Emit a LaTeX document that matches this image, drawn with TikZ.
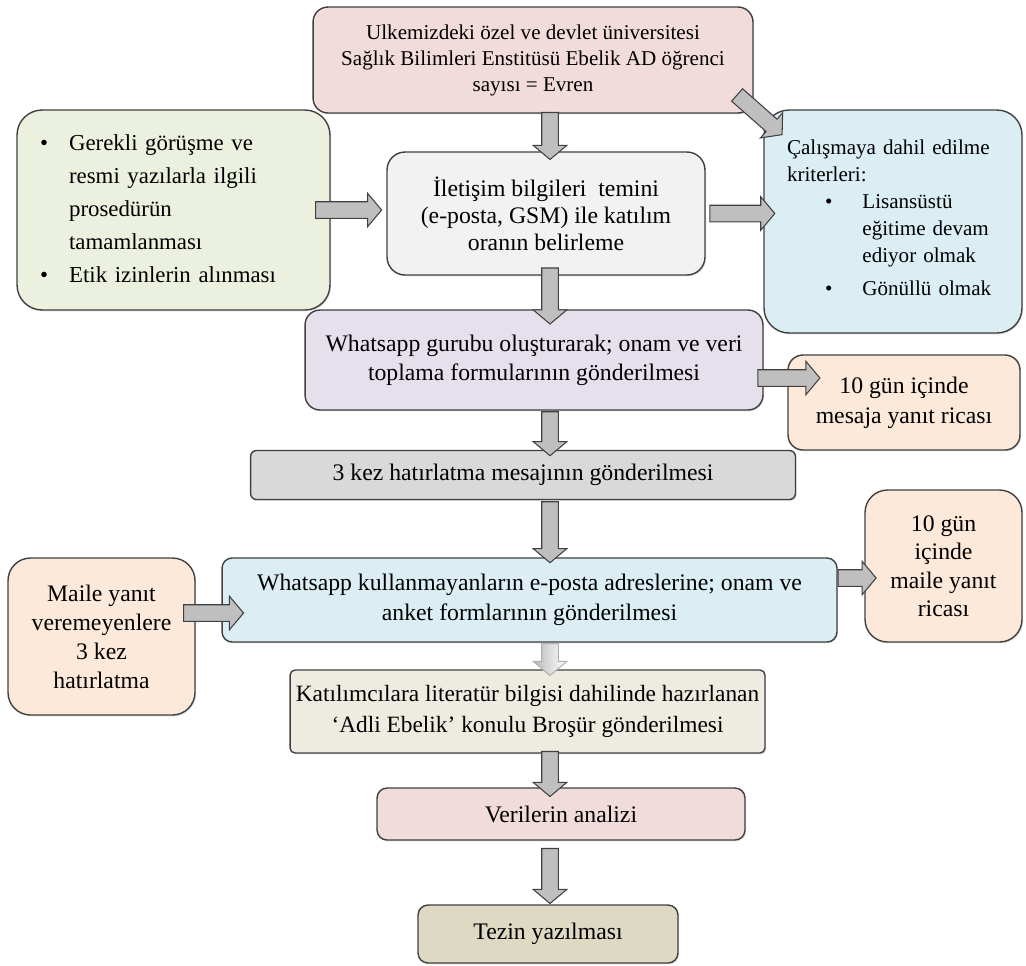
\documentclass[tikz,border=0pt]{standalone}
\usepackage{fontspec}
\setmainfont{Liberation Serif}
\usepackage{tikz}
\usetikzlibrary{positioning, calc, shapes.arrows, shadows}
\definecolor{tpink}{HTML}{F2DCDB}
\definecolor{tgreen}{HTML}{EBF1DE}
\definecolor{tgrey}{HTML}{F2F2F2}
\definecolor{tblue}{HTML}{DBEEF4}
\definecolor{tlilac}{HTML}{E5E0EC}
\definecolor{tpeach}{HTML}{FDE9D9}
\definecolor{tbar}{HTML}{D9D9D9}
\definecolor{tbeige}{HTML}{EEECE1}
\definecolor{ttan}{HTML}{DDD9C3}
\definecolor{tedge}{HTML}{404040}
\definecolor{tarrow}{HTML}{BFBFBF}
\tikzset{
  stage/.style={
    draw=tedge, fill=#1, line width=0.8pt, align=center, inner sep=0pt,
    font=\fontsize{13.5}{16.5}\selectfont,
    drop shadow={opacity=0.25, shadow xshift=0.6pt, shadow yshift=-0.8pt}
  },
  stage/.default=tgrey,
  blockarr/.style={
    single arrow, draw=tedge, fill=tarrow, line width=0.6pt,
    inner sep=0.155cm, single arrow head extend=0.17cm,
    single arrow tip angle=100, sloped, allow upside down, midway
  },
  fadearr/.style={
    blockarr, draw=gray!60, left color=gray!55, right color=white
  }
}

\begin{document}
\begin{tikzpicture}[x=0.02cm, y=-0.02cm]
  \useasboundingbox (0,0) rectangle (1026,965);
  \coordinate (spine) at (550,0);

  \node[stage=tpink, rounded corners=0.3cm, minimum width=8.8cm, minimum height=2.12cm,
        font=\fontsize{12}{14.8}\selectfont] (univ) at (533,60)
    {Ulkemizdeki özel ve devlet üniversitesi\\ Sağlık Bilimleri\ Enstitüsü Ebelik AD öğrenci\\ sayısı = Evren};
  \node[stage=tgreen, rounded corners=0.5cm, minimum width=6.26cm, minimum height=4cm,
        text width=5.34cm, align=left, font=\fontsize{13}{18.8}\selectfont] (prep) at (173.5,210)
    {\begin{tabular}{@{}l@{\hspace{12pt}}l@{}}
      \textbullet & Gerekli\ görüşme ve\\
      & resmi yazılarla ilgili\\
      & prosedürün\\
      & tamamlanması\\
      \textbullet & Etik izinlerin\ alınması
    \end{tabular}};
  \node[stage, rounded corners=0.36cm, minimum width=6.36cm, minimum height=2.46cm,
        font=\fontsize{13.5}{15.4}\selectfont] (ilet) at (546,213.5)
    {İletişim bilgileri\ \ temini\\ (e-posta, GSM) ile katılım\\ oranın belirleme};
  \node[stage=tblue, rounded corners=0.5cm, minimum width=5.16cm, minimum height=4.46cm,
        text width=4.24cm, align=left, font=\fontsize{12}{15.4}\selectfont] (crit) at (893,221.5)
    {Çalışmaya dahil edilme\\ kriterleri:\\
     \hspace*{0.76cm}\begin{tabular}[t]{@{}l@{\hspace{0.6cm}}l@{}}
       \textbullet & Lisansüstü\\
       & eğitime devam\\
       & ediyor olmak\\[3pt]
       \textbullet & Gönüllü olmak
     \end{tabular}};
  \node[stage=tlilac, rounded corners=0.3cm, minimum width=9.16cm, minimum height=2cm,
        font=\fontsize{13.5}{16.5}\selectfont] (group) at (534,360)
    {Whatsapp gurubu oluşturarak; onam ve veri\\ toplama formularının gönderilmesi};
  \node[stage=tpeach, rounded corners=0.3cm, minimum width=4.64cm, minimum height=1.9cm,
        font=\fontsize{13.5}{17}\selectfont] (msgwait) at (904,402.5)
    {10 gün içinde\\ mesaja yanıt ricası};
  \node[stage=tbar, rounded corners=0.12cm, minimum width=10.9cm, minimum height=0.98cm] (remind) at (523,475)
    {3 kez hatırlatma mesajının gönderilmesi};
  \node[stage=tblue, rounded corners=0.2cm, minimum width=12.3cm, minimum height=1.68cm,
        font=\fontsize{13.5}{17}\selectfont] (mail) at (529.5,600)
    {Whatsapp kullanmayanların e-posta adreslerine; onam ve\\ anket formlarının gönderilmesi};
  \node[stage=tpeach, rounded corners=0.45cm, minimum width=3.74cm, minimum height=3.14cm,
        font=\fontsize{13.5}{16.5}\selectfont] (nudge) at (101.5,636.5)
    {Maile yanıt\\ veremeyenlere\\ 3 kez\\ hatırlatma};
  \node[stage=tpeach, rounded corners=0.45cm, minimum width=3.14cm, minimum height=3.04cm,
        font=\fontsize{13.5}{16.2}\selectfont] (mailwait) at (943.5,566)
    {10 gün\\ içinde\\ maile yanıt\\ ricası};
  \node[stage=tbeige, rounded corners=0.1cm, minimum width=9.5cm, minimum height=1.66cm,
        font=\fontsize{13.3}{17.5}\selectfont] (brochure) at (527.5,711.5)
    {Katılımcılara literatür bilgisi dahilinde hazırlanan\\ ‘Adli Ebelik’ konulu Broşür gönderilmesi};
  \node[stage=tpink, rounded corners=0.2cm, minimum width=7.36cm, minimum height=1.04cm] (analysis) at (561,814)
    {Verilerin analizi};
  \node[stage=ttan, rounded corners=0.2cm, minimum width=5.2cm, minimum height=1.16cm] (thesis) at (548,934)
    {Tezin yazılması};

  \coordinate (jrow) at ($(group.east)+(0,18)$);
  \coordinate (krow) at ($(nudge.east)+(0,-23.5)$);
  \coordinate (lrow) at ($(mail.east)+(0,-22)$);

  \path (univ.south -| spine) -- node[blockarr, minimum height=0.94cm]{} (ilet.north -| spine);
  \path (ilet.south -| spine) -- node[blockarr, minimum height=1.12cm]{} (group.north -| spine);
  \path (group.south -| spine) -- node[blockarr, minimum height=0.88cm]{} (remind.north -| spine);
  \path (remind.south -| spine) -- node[blockarr, minimum height=1.22cm]{} (mail.north -| spine);
  \path (mail.south -| spine) -- node[fadearr, minimum height=0.64cm]{} (brochure.north -| spine);
  \path (brochure.south -| spine) -- node[blockarr, minimum height=0.9cm]{} (analysis.north -| spine);
  \path (analysis.south -| spine) -- node[blockarr, minimum height=1.1cm]{} (thesis.north -| spine);

  \path (prep.east) -- node[blockarr, pos=0.26, minimum height=1.32cm]{} (prep.east -| ilet.west);
  \path (ilet.east) -- node[blockarr, pos=0.575, minimum height=1.3cm]{} (ilet.east -| crit.west);
  \path (jrow) -- node[blockarr, pos=0.92, minimum height=1.24cm]{} (jrow -| msgwait.west);
  \path (krow) -- node[blockarr, pos=0.56, minimum height=1.2cm]{} (krow -| mail.west);
  \path (lrow) -- node[blockarr, pos=0.6, minimum height=0.76cm]{} (lrow -| mailwait.west);
  \path ($(univ.south east)+(-18,-20)$) -- node[blockarr, minimum height=1.2cm]{} ($(crit.north west)+(15,22)$);
\end{tikzpicture}
\end{document}
